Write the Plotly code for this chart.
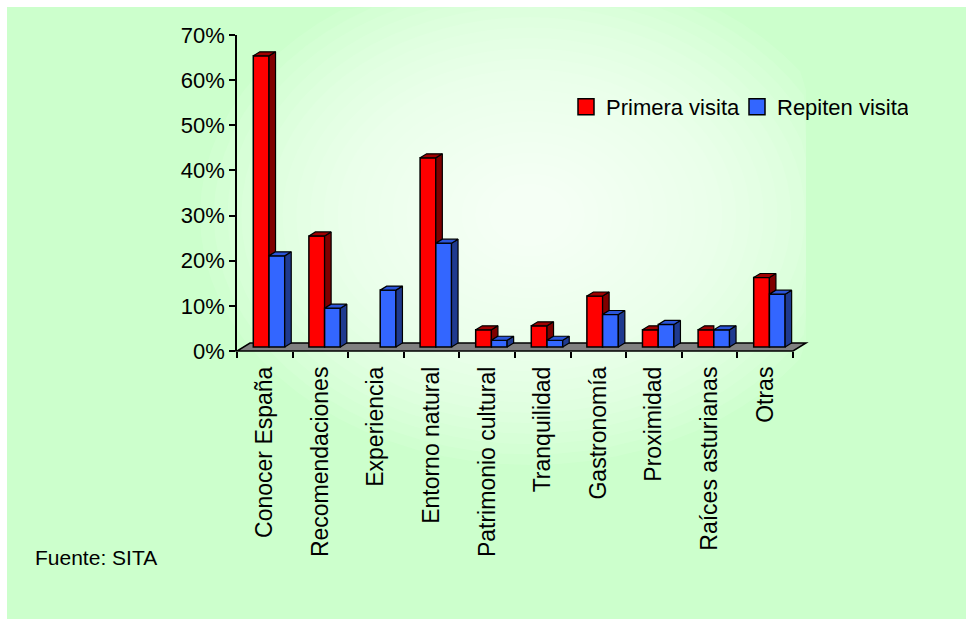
import numpy as np
import plotly.graph_objects as go

# ---------------- data ----------------
categories = ["Conocer España", "Recomendaciones", "Experiencia", "Entorno natural",
              "Patrimonio cultural", "Tranquilidad", "Gastronomía", "Proximidad",
              "Raíces asturianas", "Otras"]
primera_visita = [64.5, 24.6, 0.0, 41.9, 3.8, 4.7, 11.3, 3.8, 3.8, 15.4]
repiten_visita = [20.2, 8.6, 12.6, 23.0, 1.5, 1.5, 7.2, 5.0, 3.8, 11.7]
series_names = ["Primera visita", "Repiten visita"]
y_tick_values = [0, 10, 20, 30, 40, 50, 60, 70]
source_text = "Fuente: SITA"

# ---------------- layout geometry (pixels) ----------------
FIG_W, FIG_H = 966, 619
M_L, M_R, M_T, M_B = 237, 160, 35, 268
PLOT_W = FIG_W - M_L - M_R
PLOT_H = FIG_H - M_T - M_B
CAT_PX = 55.6
X0 = -0.5
X1 = X0 + PLOT_W / CAT_PX
Y0, Y1 = 0, 70

# 3D look (data units)
W_BAR = 0.283
OFF_RED = -0.207
OFF_BLUE = 0.0755
DX = 0.117
DY = 0.886
BASE = 0.886
FLOOR_DX = 0.234
FLOOR_DY = 1.77

RED, RED_SIDE, RED_TOP = "#FF0000", "#800000", "#A00000"
BLUE, BLUE_SIDE, BLUE_TOP = "#3366FF", "#1F3A8F", "#2B55D9"
FONT = "Liberation Sans, Arial, sans-serif"


def px_x(px):
    return (px - M_L) / PLOT_W


def px_y(py):
    return (M_T + PLOT_H - py) / PLOT_H


def d_x(x):
    return (x - X0) / (X1 - X0)


def d_y(y):
    return (y - Y0) / (Y1 - Y0)


idx = list(range(len(categories)))
fig = go.Figure()

# front faces
fig.add_trace(go.Bar(x=idx, y=[v if v > 0 else None for v in primera_visita], base=BASE,
                     width=W_BAR, offset=OFF_RED, name=series_names[0], showlegend=False,
                     marker=dict(color=RED, line=dict(color="black", width=1.5)),
                     hoverinfo="skip"))
fig.add_trace(go.Bar(x=idx, y=[v if v > 0 else None for v in repiten_visita], base=BASE,
                     width=W_BAR, offset=OFF_BLUE, name=series_names[1], showlegend=False,
                     marker=dict(color=BLUE, line=dict(color="black", width=1.5)),
                     hoverinfo="skip"))


def poly_trace(polys, color):
    xs, ys = [], []
    for p in polys:
        for (a, b) in p:
            xs.append(a)
            ys.append(b)
        xs.append(p[0][0])
        ys.append(p[0][1])
        xs.append(None)
        ys.append(None)
    return go.Scatter(x=xs, y=ys, mode="lines", fill="toself", fillcolor=color,
                      line=dict(color="black", width=1.2), showlegend=False,
                      hoverinfo="skip")


red_side, red_top, blue_side, blue_top = [], [], [], []
for k, (vr, vb) in enumerate(zip(primera_visita, repiten_visita)):
    rl = k + OFF_RED
    rr = rl + W_BAR
    bl = k + OFF_BLUE
    br = bl + W_BAR
    tr = BASE + vr
    tb = BASE + vb
    if vr > 0:
        if vr > vb:
            red_side.append([(rr, tb), (rr, tr), (rr + DX, tr + DY), (rr + DX, tb + DY)])
            red_top.append([(rl, tr), (rr, tr), (rr + DX, tr + DY), (rl + DX, tr + DY)])
        else:
            red_top.append([(rl, tr), (rr, tr), (rr, tr + DY), (rl + DX, tr + DY)])
    if vb > 0:
        blue_side.append([(br, BASE), (br, tb), (br + DX, tb + DY), (br + DX, BASE + DY)])
        blue_top.append([(bl, tb), (br, tb), (br + DX, tb + DY), (bl + DX, tb + DY)])

fig.add_trace(poly_trace(red_side, RED_SIDE))
fig.add_trace(poly_trace(red_top, RED_TOP))
fig.add_trace(poly_trace(blue_side, BLUE_SIDE))
fig.add_trace(poly_trace(blue_top, BLUE_TOP))

# legend entries
for name, col in zip(series_names, [RED, BLUE]):
    fig.add_trace(go.Scatter(x=[None], y=[None], mode="markers", name=name,
                             marker=dict(symbol="square", size=16, color=col,
                                         line=dict(color="black", width=1.5))))

# ---------------- background shapes ----------------
shapes = []
shapes.append(dict(type="rect", xref="paper", yref="paper", layer="below",
                   x0=px_x(7), x1=px_x(FIG_W + 5), y0=px_y(FIG_H + 5), y1=px_y(7),
                   fillcolor="#CCFFCC", line=dict(width=0)))
CX, CY, RX, RY = 530, 215, 330, 250
N = 24
ang = np.linspace(0, 2 * np.pi, 73)
for i in range(N):
    t = 1 - i / N
    pxs = np.clip(CX + RX * t * np.cos(ang), 186, 806)
    pys = np.clip(CY + RY * t * np.sin(ang), 7, FIG_H)
    path = "M " + " L ".join(f"{px_x(a):.5f},{px_y(b):.5f}" for a, b in zip(pxs, pys)) + " Z"
    shapes.append(dict(type="path", xref="paper", yref="paper", layer="below", path=path,
                       fillcolor="white", opacity=0.085, line=dict(width=0)))
floor_pts = [(X0, 0), (len(categories) - 0.5, 0),
             (len(categories) - 0.5 + FLOOR_DX, FLOOR_DY), (X0 + FLOOR_DX, FLOOR_DY)]
fpath = "M " + " L ".join(f"{d_x(a):.5f},{d_y(b):.5f}" for a, b in floor_pts) + " Z"
shapes.append(dict(type="path", xref="paper", yref="paper", layer="below", path=fpath,
                   fillcolor="#808080", line=dict(color="black", width=1.5)))

fig.update_layout(
    width=FIG_W, height=FIG_H,
    margin=dict(l=M_L, r=M_R, t=M_T, b=M_B, pad=0),
    paper_bgcolor="white", plot_bgcolor="rgba(0,0,0,0)",
    barmode="overlay",
    font=dict(family=FONT, size=22, color="black"),
    shapes=shapes,
    showlegend=True,
    legend=dict(orientation="h", x=px_x(566), y=px_y(86), xanchor="left", yanchor="top",
                bgcolor="rgba(0,0,0,0)", font=dict(size=22, family=FONT),
                entrywidth=126, entrywidthmode="pixels",
                itemclick=False, itemdoubleclick=False),
    annotations=[dict(text=source_text, xref="paper", yref="paper", x=px_x(33), y=px_y(557),
                      xanchor="left", yanchor="middle", showarrow=False,
                      font=dict(size=21, family=FONT))],
)
fig.update_xaxes(range=[X0, X1], tickmode="array", tickvals=idx, ticktext=categories,
                 tickangle=-90, ticks="", showgrid=False, zeroline=False, showline=False,
                 ticklabelstandoff=10, tickfont=dict(size=23, family=FONT),
                 minor=dict(tickmode="array", tickvals=[i - 0.5 for i in range(len(categories) + 1)],
                            ticks="outside", ticklen=6, tickwidth=1.5, tickcolor="black",
                            showgrid=False))
fig.update_yaxes(range=[Y0, Y1], tickmode="array", tickvals=y_tick_values,
                 ticktext=[f"{v}%" for v in y_tick_values], ticks="outside", ticklen=6,
                 tickwidth=1.5, tickcolor="black", showline=True, linecolor="black",
                 linewidth=1.5, showgrid=False, zeroline=False,
                 tickfont=dict(size=22, family=FONT))

fig.write_html("out.html")
